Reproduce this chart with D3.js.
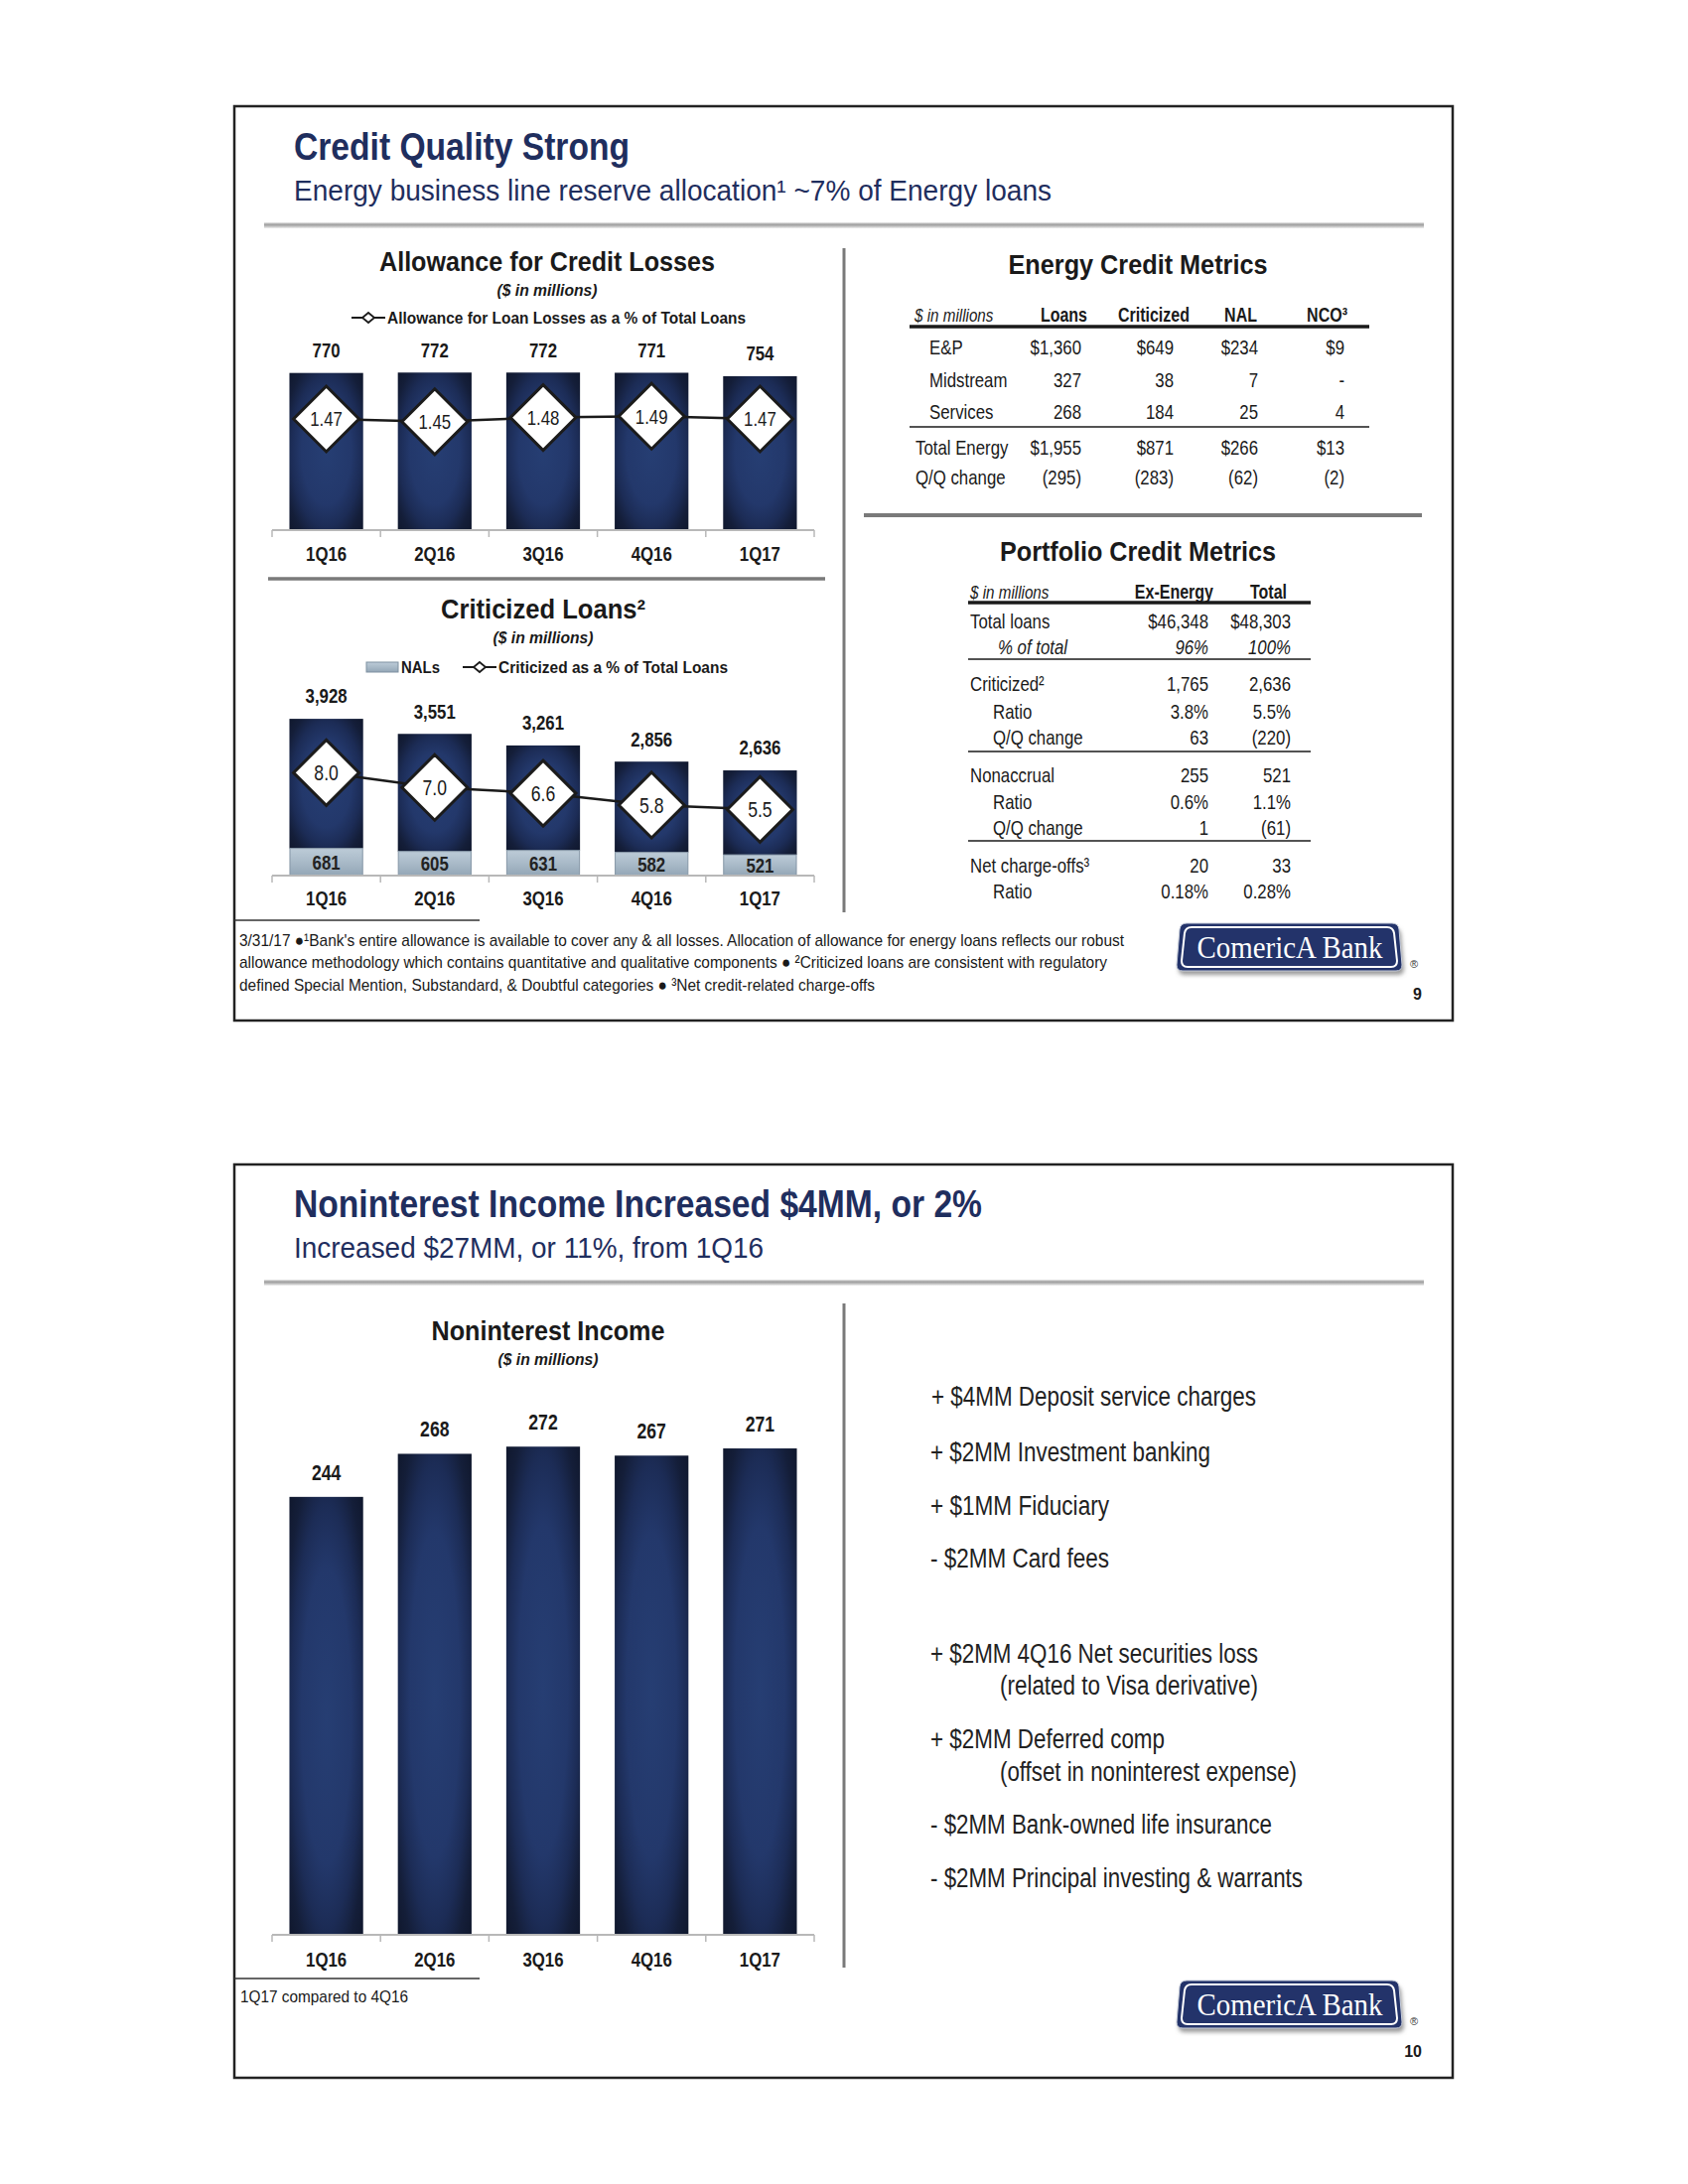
<!DOCTYPE html>
<html><head><meta charset="utf-8">
<script src="https://cdn.jsdelivr.net/npm/d3@7"></script>
<style>body{margin:0;background:#fff}</style>
</head><body><svg id="c" width="1700" height="2200"></svg>
<script>
// ---------------- DATA ----------------
const quarters = ["1Q16","2Q16","3Q16","4Q16","1Q17"];
const allowanceTotal = [770,772,772,771,754];
const allowancePct = [1.47,1.45,1.48,1.49,1.47];
const criticizedTotal = [3928,3551,3261,2856,2636];
const criticizedNALs = [681,605,631,582,521];
const criticizedPct = [8.0,7.0,6.6,5.8,5.5];
const noninterestIncome = [244,268,272,267,271];

const energyHeader = ["Loans","Criticized","NAL","NCO³"];
const energyRows = ["E&P","Midstream","Services","Total Energy","Q/Q change"];
const energyLoans = ["$1,360","327","268","$1,955","(295)"];
const energyCriticized = ["$649","38","184","$871","(283)"];
const energyNAL = ["$234","7","25","$266","(62)"];
const energyNCO = ["$9","-","4","$13","(2)"];

const portfolioHeader = ["Ex-Energy","Total"];
const portfolioRows = ["Total loans","% of total","Criticized²","Ratio","Q/Q change","Nonaccrual","Ratio","Q/Q change","Net charge-offs³","Ratio"];
const portfolioExEnergy = ["$46,348","96%","1,765","3.8%","63","255","0.6%","1","20","0.18%"];
const portfolioTotal = ["$48,303","100%","2,636","5.5%","(220)","521","1.1%","(61)","33","0.28%"];

const incomeDrivers = ["+ $4MM Deposit service charges","+ $2MM Investment banking","+ $1MM Fiduciary","- $2MM Card fees",
  "+ $2MM 4Q16 Net securities loss","(related to Visa derivative)","+ $2MM Deferred comp","(offset in noninterest expense)",
  "- $2MM Bank-owned life insurance","- $2MM Principal investing & warrants"];

const footnotes1 = ["3/31/17 ●¹Bank's entire allowance is available to cover any & all losses. Allocation of allowance for energy loans reflects our robust",
  "allowance methodology which contains quantitative and qualitative components ● ²Criticized loans are consistent with regulatory",
  "defined Special Mention, Substandard, & Doubtful categories ● ³Net credit-related charge-offs"];

// ---------------- SETUP ----------------
const svg = d3.select("#c");
const cv = document.createElement("canvas").getContext("2d");
cv.font = '40px monospace'; const wm = cv.measureText("abcdefghijklmnopQRS").width;
cv.font = '40px "Liberation Sans Narrow", monospace'; const wn = cv.measureText("abcdefghijklmnopQRS").width;
const hasNarrow = Math.abs(wm - wn) > 0.5;
const FAM = hasNarrow ? '"Liberation Sans Narrow","Arial Narrow",sans-serif' : '"Liberation Sans",Arial,sans-serif';
const NAVY = "#1f2e5e";
const INK = "#1a1a1a";

function T(g, x, y, s, o = {}) {
  const t = g.append("text").attr("x", x).attr("y", y).attr("dy", "0.35em").text(s)
    .style("font-family", o.family || FAM).style("font-size", (o.size || 18) + "px")
    .style("font-weight", o.bold ? "bold" : "normal").style("font-style", o.italic ? "italic" : "normal")
    .attr("fill", o.fill || INK).attr("text-anchor", o.anchor || "start");
  if (o.len) t.attr("textLength", o.len).attr("lengthAdjust", "spacingAndGlyphs");
  else if (!o.family) t.classed("cond", true);
  return t;
}

const defs = svg.append("defs");
const rg = defs.append("radialGradient").attr("id", "navyGrad").attr("cx", "50%").attr("cy", "50%").attr("r", "75%");
[[0,"#263e73"],[0.45,"#23386b"],[0.64,"#1c2c56"],[0.8,"#141e39"],[1,"#0e1528"]].forEach(([o,c]) => rg.append("stop").attr("offset", o).attr("stop-color", c));
const ng = defs.append("linearGradient").attr("id", "nalGrad").attr("x1",0).attr("x2",0).attr("y1",0).attr("y2",1);
[[0,"#bccbd7"],[0.5,"#a9bac8"],[1,"#93a6b6"]].forEach(([o,c]) => ng.append("stop").attr("offset", o).attr("stop-color", c));
const sg = defs.append("linearGradient").attr("id", "sepGrad").attr("x1",0).attr("x2",0).attr("y1",0).attr("y2",1);
[[0,"#eeeeee"],[0.35,"#9c9c9c"],[0.65,"#bdbdbd"],[1,"#f2f2f2"]].forEach(([o,c]) => sg.append("stop").attr("offset", o).attr("stop-color", c));
const blur = defs.append("filter").attr("id", "blur").attr("x","-10%").attr("y","-10%").attr("width","120%").attr("height","140%");
blur.append("feGaussianBlur").attr("stdDeviation", 2);

// ---------------- FRAMES ----------------
function frame(y0, h) {
  svg.append("rect").attr("x", 236).attr("y", y0).attr("width", 1227).attr("height", h)
    .attr("fill", "none").attr("stroke", "#222").attr("stroke-width", 2.5);
}
frame(107, 921);
frame(1173, 920);

function header(yTitle, title, tLen, sub, sLen, ySep) {
  T(svg, 296, yTitle, title, {size: 38, bold: true, fill: NAVY, len: tLen});
  T(svg, 296, yTitle + 44, sub, {size: 29, fill: NAVY, len: sLen});
  svg.append("rect").attr("x", 266).attr("y", ySep - 3).attr("width", 1168).attr("height", 6).attr("fill", "url(#sepGrad)");
}
header(148, "Credit Quality Strong", 338, "Energy business line reserve allocation¹ ~7% of Energy loans", 763, 227);
header(1213, "Noninterest Income Increased $4MM, or 2%", 693, "Increased $27MM, or 11%, from 1Q16", 473, 1292);

function line(x1, y1, x2, y2, c, w) {
  svg.append("line").attr("x1", x1).attr("y1", y1).attr("x2", x2).attr("y2", y2).attr("stroke", c).attr("stroke-width", w);
}
// dividers
line(850, 250, 850, 919, "#7a7a7a", 3);
line(850, 1313, 850, 1982, "#7a7a7a", 3);
line(270, 583, 831, 583, "#7a7a7a", 3.5);
line(870, 519, 1432, 519, "#7a7a7a", 4);
line(236, 927, 483, 927, "#333", 1.5);
line(236, 1993, 483, 1993, "#333", 1.5);

// ---------------- CHART HELPERS ----------------
function chartTitle(cx, y, title, tLen) {
  T(svg, cx, y, title, {size: 28, bold: true, anchor: "middle", len: tLen});
  T(svg, cx, y + 29, "($ in millions)", {size: 16, bold: true, italic: true, anchor: "middle", len: 101});
}
function axis(x, y0, labelDy) {
  const g = svg.append("g");
  const [r0, r1] = x.range();
  g.append("line").attr("x1", r0).attr("x2", r1).attr("y1", y0).attr("y2", y0).attr("stroke", "#b8b8b8").attr("stroke-width", 2);
  d3.range(x.domain().length + 1).forEach(i => {
    const xx = r0 + i * x.step();
    g.append("line").attr("x1", xx).attr("x2", xx).attr("y1", y0).attr("y2", y0 + 7).attr("stroke", "#b8b8b8").attr("stroke-width", 1.5);
  });
  const ax = g.append("g").attr("transform", `translate(0,${y0})`).call(d3.axisBottom(x).tickSize(0).tickSizeOuter(0));
  ax.select(".domain").remove();
  ax.selectAll("text").attr("y", labelDy).attr("dy", "0.35em").attr("fill", INK)
    .style("font-family", FAM).style("font-size", "21px").style("font-weight", "bold").classed("cond", true);
}
function diamondLine(x, yScale, vals, size, fontSize) {
  const cx = q => x(q) + x.bandwidth() / 2;
  const pts = quarters.map((q, i) => [cx(q), yScale(vals[i])]);
  svg.append("path").attr("d", d3.line()(pts)).attr("fill", "none").attr("stroke", INK).attr("stroke-width", 2.5);
  pts.forEach(([px, py], i) => {
    const h = size;
    svg.append("path").attr("d", `M${px},${py - h}L${px + h},${py}L${px},${py + h}L${px - h},${py}Z`)
      .attr("fill", "#fff").attr("stroke", "#1b1b1b").attr("stroke-width", 3);
    T(svg, px, py, vals[i].toFixed(vals[i] >= 5 ? 1 : 2), {size: fontSize, anchor: "middle"});
  });
}
function legendLine(x0, y, w) {
  line(x0, y, x0 + w, y, INK, 2);
  const cx = x0 + w / 2;
  svg.append("path").attr("d", `M${cx},${y - 5}L${cx + 6},${y}L${cx},${y + 5}L${cx - 6},${y}Z`)
    .attr("fill", "#fff").attr("stroke", INK).attr("stroke-width", 1.8);
}

// ---------------- CHART 1: Allowance ----------------
const x1 = d3.scaleBand().domain(quarters).range([274, 820]).paddingInner(0.32).paddingOuter(0.16);
const y1 = d3.scaleLinear().domain([0, 1000]).range([534, 328.4]);
const y1p = d3.scaleLinear().domain([0.67, 1.8]).range([534, 375.8]);
chartTitle(551, 263, "Allowance for Credit Losses", 338);
legendLine(354, 320, 34);
T(svg, 390, 320, "Allowance for Loan Losses as a % of Total Loans", {size: 17, bold: true, len: 361});
svg.append("g").selectAll("rect").data(quarters).join("rect")
  .attr("x", q => x1(q)).attr("width", x1.bandwidth())
  .attr("y", (q, i) => y1(allowanceTotal[i])).attr("height", (q, i) => y1(0) - y1(allowanceTotal[i]))
  .attr("fill", "url(#navyGrad)");
quarters.forEach((q, i) => T(svg, x1(q) + x1.bandwidth() / 2, y1(allowanceTotal[i]) - 23, d3.format(",")(allowanceTotal[i]), {size: 21, bold: true, anchor: "middle"}));
axis(x1, 534, 24);
diamondLine(x1, y1p, allowancePct, 33, 21);

// ---------------- CHART 2: Criticized ----------------
const x2 = d3.scaleBand().domain(quarters).range([274, 820]).paddingInner(0.32).paddingOuter(0.16);
const y2 = d3.scaleLinear().domain([0, 4000]).range([882, 721.2]);
const y2p = d3.scaleLinear().domain([1, 12]).range([882, 719.2]);
chartTitle(547, 613, "Criticized Loans²", 206);
svg.append("rect").attr("x", 369).attr("y", 667).attr("width", 32).attr("height", 10).attr("fill", "url(#nalGrad)").attr("stroke", "#7f91a1").attr("stroke-width", 1);
T(svg, 404, 672, "NALs", {size: 17, bold: true, len: 39});
legendLine(466, 672, 34);
T(svg, 502, 672, "Criticized as a % of Total Loans", {size: 17, bold: true, len: 231});
svg.append("g").selectAll("rect").data(quarters).join("rect")
  .attr("x", q => x2(q)).attr("width", x2.bandwidth())
  .attr("y", (q, i) => y2(criticizedTotal[i])).attr("height", (q, i) => y2(criticizedNALs[i]) - y2(criticizedTotal[i]))
  .attr("fill", "url(#navyGrad)");
svg.append("g").selectAll("rect").data(quarters).join("rect")
  .attr("x", q => x2(q) + 0.5).attr("width", x2.bandwidth() - 1)
  .attr("y", (q, i) => y2(criticizedNALs[i])).attr("height", (q, i) => y2(0) - y2(criticizedNALs[i]))
  .attr("fill", "url(#nalGrad)").attr("stroke", "#8596a6").attr("stroke-width", 1);
quarters.forEach((q, i) => {
  const cx = x2(q) + x2.bandwidth() / 2;
  T(svg, cx, y2(criticizedTotal[i]) - 23, d3.format(",")(criticizedTotal[i]), {size: 21, bold: true, anchor: "middle"});
  T(svg, cx, (y2(criticizedNALs[i]) + y2(0)) / 2, d3.format(",")(criticizedNALs[i]), {size: 21, bold: true, anchor: "middle", fill: "#222"});
});
axis(x2, 882, 23);
diamondLine(x2, y2p, criticizedPct, 33, 22);

// ---------------- CHART 3: Noninterest income ----------------
const x3 = d3.scaleBand().domain(quarters).range([274, 820]).paddingInner(0.32).paddingOuter(0.16);
const y3 = d3.scaleLinear().domain([0, 300]).range([1949, 1406.6]);
chartTitle(552, 1340, "Noninterest Income", 235);
svg.append("g").selectAll("rect").data(quarters).join("rect")
  .attr("x", q => x3(q)).attr("width", x3.bandwidth())
  .attr("y", (q, i) => y3(noninterestIncome[i])).attr("height", (q, i) => y3(0) - y3(noninterestIncome[i]))
  .attr("fill", "url(#navyGrad)");
quarters.forEach((q, i) => T(svg, x3(q) + x3.bandwidth() / 2, y3(noninterestIncome[i]) - 25, String(noninterestIncome[i]), {size: 22, bold: true, anchor: "middle"}));
axis(x3, 1949, 25);

// ---------------- ENERGY TABLE ----------------
T(svg, 1146, 266, "Energy Credit Metrics", {size: 28, bold: true, anchor: "middle", len: 261});
const eColRight = [1089, 1182, 1267, 1354];
const eHeadRight = [1095, 1198, 1266, 1357];
T(svg, 921, 317, "$ in millions", {size: 19, italic: true});
energyHeader.forEach((h, j) => T(svg, eHeadRight[j], 317, h, {size: 20, bold: true, anchor: "end"}));
line(916, 329, 1379, 329, INK, 3.5);
const eRowY = [350, 383, 415, 451, 481];
const eRowX = [936, 936, 936, 922, 922];
const eCols = [energyLoans, energyCriticized, energyNAL, energyNCO];
energyRows.forEach((r, i) => {
  T(svg, eRowX[i], eRowY[i], r, {size: 21});
  eCols.forEach((col, j) => T(svg, eColRight[j], eRowY[i], col[i], {size: 21, anchor: "end"}));
});
line(916, 430, 1379, 430, INK, 1.5);

// ---------------- PORTFOLIO TABLE ----------------
T(svg, 1146, 555, "Portfolio Credit Metrics", {size: 28, bold: true, anchor: "middle", len: 278});
T(svg, 977, 596, "$ in millions", {size: 19, italic: true});
const pColRight = [1217, 1300];
const pHeadRight = [1222, 1296];
portfolioHeader.forEach((h, j) => T(svg, pHeadRight[j], 596, h, {size: 20, bold: true, anchor: "end"}));
line(975, 607, 1320, 607, INK, 3.5);
const pRowY = [626, 652, 689, 717, 743, 781, 808, 834, 872, 898];
const pRowX = [977, 1005, 977, 1000, 1000, 977, 1000, 1000, 977, 1000];
const pItalic = [false, true, false, false, false, false, false, false, false, false];
portfolioRows.forEach((r, i) => {
  T(svg, pRowX[i], pRowY[i], r, {size: 21, italic: pItalic[i]});
  T(svg, pColRight[0], pRowY[i], portfolioExEnergy[i], {size: 21, anchor: "end", italic: pItalic[i]});
  T(svg, pColRight[1], pRowY[i], portfolioTotal[i], {size: 21, anchor: "end", italic: pItalic[i]});
});
[664, 757, 847].forEach(y => line(975, y, 1320, y, INK, 1.5));

// ---------------- FOOTNOTES ----------------
const fnLen = [891, 874, 640];
footnotes1.forEach((s, i) => T(svg, 241, 947 + i * 22.5, s, {size: 17, len: fnLen[i]}));
T(svg, 242, 2011, "1Q17 compared to 4Q16", {size: 17, len: 169});

// ---------------- SLIDE 2 TEXT ----------------
const drvY = [1407, 1463, 1517, 1570, 1666, 1698, 1752, 1785, 1838, 1892];
const drvX = [938, 937, 937, 937, 937, 1007, 937, 1007, 937, 937];
const drvLen = [327, 282, 180, 180, 330, 260, 236, 299, 344, 375];
incomeDrivers.forEach((s, i) => T(svg, drvX[i], drvY[i], s, {size: 27, fill: "#222", len: drvLen[i]}));

// ---------------- LOGOS ----------------
function logo(x0, y0, pageNum, py) {
  const x1_ = x0 + 227, y1_ = y0 + 48;
  const p = (a, b, c, d, k) => `M${a + 10 + k},${b}L${c - 10 - k},${b}Q${c - 4},${b} ${c - 3},${b + 6}L${c},${d - 6}Q${c},${d} ${c - 6},${d}L${a + 6},${d}Q${a},${d} ${a},${d - 6}L${a + 3},${b + 6}Q${a + 4},${b} ${a + 10 + k},${b}Z`;
  svg.append("path").attr("d", p(x0 + 2, y0 + 5, x1_ + 2, y1_ + 4, 0)).attr("fill", "#9a9a9a").attr("filter", "url(#blur)");
  svg.append("path").attr("d", p(x0, y0, x1_, y1_, 0)).attr("fill", "#23336a").attr("stroke", "#c9cfdc").attr("stroke-width", 1);
  svg.append("path").attr("d", p(x0 + 5, y0 + 4, x1_ - 5, y1_ - 4, 0)).attr("fill", "none").attr("stroke", "#fff").attr("stroke-width", 2);
  T(svg, x0 + 114, y0 + 24, "ComericA Bank", {family: '"Liberation Serif","Times New Roman",serif', size: 31, fill: "#fff", anchor: "middle", len: 187});
  T(svg, x1_ + 12, y1_ - 7, "®", {family: '"Liberation Sans",Arial,sans-serif', size: 11, fill: "#333", anchor: "middle"});
  T(svg, 1432, py, pageNum, {family: '"Liberation Sans",Arial,sans-serif', size: 16, bold: true, anchor: "end"});
}
logo(1185, 930, "9", 1001);
logo(1185, 1995, "10", 2066);

// condensation fallback if narrow font missing
if (!hasNarrow) {
  d3.selectAll("text.cond").each(function () {
    const L = this.getComputedTextLength();
    d3.select(this).attr("textLength", L * 0.8).attr("lengthAdjust", "spacingAndGlyphs");
  });
}
</script></body></html>
